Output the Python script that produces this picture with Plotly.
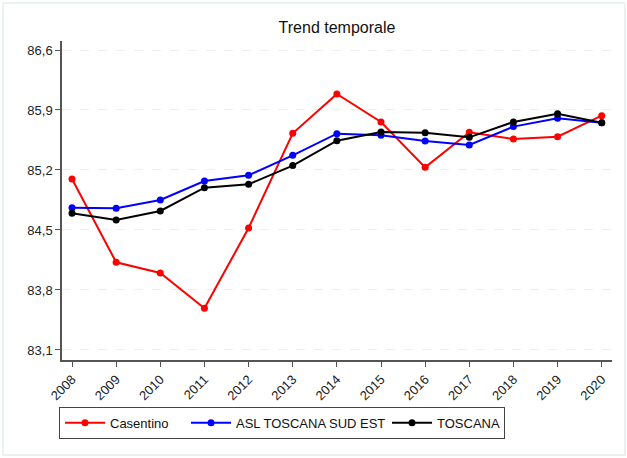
import plotly.graph_objects as go

years = [2008, 2009, 2010, 2011, 2012, 2013, 2014, 2015, 2016, 2017, 2018, 2019, 2020]
casentino = [85.095, 84.123, 83.998, 83.586, 84.523, 85.628, 86.087, 85.76, 85.231, 85.64, 85.562, 85.588, 85.834]
asl_sud_est = [84.76, 84.753, 84.85, 85.072, 85.138, 85.371, 85.624, 85.605, 85.538, 85.492, 85.706, 85.803, 85.752]
toscana = [84.694, 84.617, 84.722, 84.994, 85.033, 85.251, 85.542, 85.643, 85.635, 85.581, 85.76, 85.857, 85.752]
y_ticks = [83.1, 83.8, 84.5, 85.2, 85.9, 86.6]

# name, values, colour, width of legend entry text slot
series = [("Casentino", casentino, "#ff0000", 71),
          ("ASL TOSCANA SUD EST", asl_sud_est, "#0000ff", 146),
          ("TOSCANA", toscana, "#000000", 62)]

fig = go.Figure()
for name, vals, col, lw in series:
    fig.add_trace(go.Scatter(x=years, y=vals, name=name, mode="lines+markers",
                             line=dict(color=col, width=2),
                             marker=dict(color=col, size=7),
                             legendwidth=lw))

fig.update_layout(
    width=627, height=458,
    margin=dict(l=62, r=15, t=41, b=98),
    paper_bgcolor="white", plot_bgcolor="white",
    font=dict(family="Liberation Sans, Arial", size=13, color="#222222"),
    separators=",.",
    title=dict(text="Trend temporale", x=0.5, xref="paper", y=0.94, yanchor="middle",
               font=dict(size=16, color="#111111")),
    showlegend=True,
    legend=dict(orientation="h", x=(59 - 62) / 550, y=-0.147, xanchor="left", yanchor="top",
                bordercolor="#444444", borderwidth=1, bgcolor="white", itemwidth=40,
                font=dict(size=13, color="#111111")),
    xaxis=dict(range=[2007.773, 2020.233], tickmode="array", tickvals=years,
               ticktext=[str(y) for y in years], tickangle=-45,
               showline=True, linecolor="#555555", linewidth=1.5,
               ticks="outside", ticklen=5, tickcolor="#555555",
               showgrid=False, zeroline=False),
    yaxis=dict(range=[82.983, 86.705], tickmode="array", tickvals=y_ticks,
               tickformat=".1f", showline=True, linecolor="#555555", linewidth=1.5,
               ticks="outside", ticklen=5, tickcolor="#555555",
               showgrid=True, gridcolor="#eeeeee", griddash="dash", gridwidth=1,
               zeroline=False),
)

# faint outer frame
fig.add_shape(type="rect", xref="paper", yref="paper",
              x0=(3 - 62) / 550, x1=(625 - 62) / 550,
              y0=(360 - 455) / 319, y1=(360 - 3) / 319,
              line=dict(color="#e6eded", width=1.5), layer="below")

fig.write_html("out.html", config={"displayModeBar": False},
               post_script="document.body.style.margin='0';")
